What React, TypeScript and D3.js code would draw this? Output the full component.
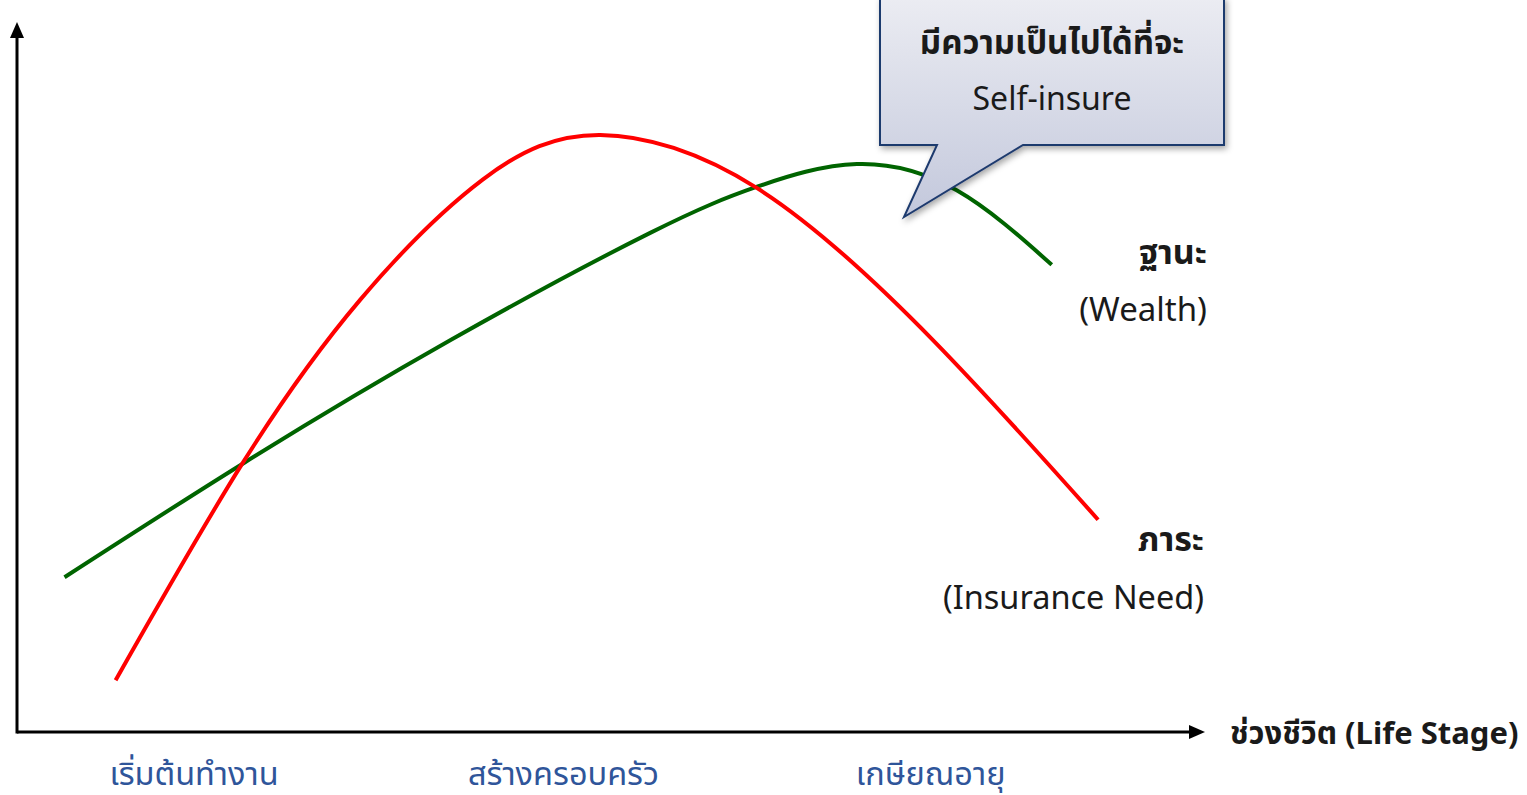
import React, { useEffect, useRef } from 'react';
import * as d3 from 'd3';

// life stage position (0-100) vs. relative level (0-100)
const needX = [8.3, 19.0, 28.9, 39.2, 49.1, 62.3, 77.1, 91.0];
const needY = [7.3, 37.9, 60.9, 77.8, 84.1, 76.6, 55.2, 29.9];

const wealthX = [4.0, 19.2, 36.5, 53.3, 62.3, 70.7, 79.1, 87.1];
const wealthY = [21.8, 38.0, 55.2, 70.3, 76.8, 80.0, 76.3, 65.8];

const stages = ['เริ่มต้นทำงาน', 'สร้างครอบครัว', 'เกษียณอายุ'];
const stageX = [14.9, 46.0, 76.9];

const width = 1527;
const height = 795;
const font = '"Noto Sans", "Noto Sans Thai", sans-serif';

const App = () => {
    const ref = useRef<SVGSVGElement>(null);

    useEffect(() => {
        document.body.style.margin = '0';
        const svg = d3.select(ref.current);
        svg.selectAll('*').remove();

        const x = d3.scaleLinear().domain([0, 100]).range([17, 1205]);
        const y = d3.scaleLinear().domain([0, 100]).range([732, 22]);

        const defs = svg.append('defs');
        const grad = defs.append('linearGradient')
            .attr('id', 'callout-fill')
            .attr('x1', 0).attr('y1', 0).attr('x2', 0).attr('y2', 1);
        grad.append('stop').attr('offset', '0%').attr('stop-color', '#ebecf2');
        grad.append('stop').attr('offset', '100%').attr('stop-color', '#c3c8dc');
        const shadow = defs.append('filter').attr('id', 'shadow')
            .attr('x', '-10%').attr('y', '-10%').attr('width', '130%').attr('height', '140%');
        shadow.append('feDropShadow')
            .attr('dx', 2).attr('dy', 3).attr('stdDeviation', 3)
            .attr('flood-color', '#000').attr('flood-opacity', 0.35);

        // axes
        svg.append('line')
            .attr('x1', x(0)).attr('y1', y(0)).attr('x2', x(100) - 12).attr('y2', y(0))
            .attr('stroke', '#000').attr('stroke-width', 3);
        svg.append('line')
            .attr('x1', x(0)).attr('y1', y(0) + 1.5).attr('x2', x(0)).attr('y2', y(100) + 12)
            .attr('stroke', '#000').attr('stroke-width', 3);
        svg.append('path')
            .attr('d', `M${x(100)},${y(0)} L${x(100) - 16},${y(0) - 7} L${x(100) - 16},${y(0) + 7} Z`)
            .attr('fill', '#000');
        svg.append('path')
            .attr('d', `M${x(0)},${y(100)} L${x(0) - 7},${y(100) + 16} L${x(0) + 7},${y(100) + 16} Z`)
            .attr('fill', '#000');

        const line = d3.line<[number, number]>()
            .x(d => x(d[0]))
            .y(d => y(d[1]))
            .curve(d3.curveNatural);

        svg.append('path')
            .datum(wealthX.map((v, i) => [v, wealthY[i]] as [number, number]))
            .attr('d', line)
            .attr('fill', 'none')
            .attr('stroke', '#006400')
            .attr('stroke-width', 4);

        svg.append('path')
            .datum(needX.map((v, i) => [v, needY[i]] as [number, number]))
            .attr('d', line)
            .attr('fill', 'none')
            .attr('stroke', '#ff0000')
            .attr('stroke-width', 4);

        // callout
        svg.append('path')
            .attr('d', 'M880,-2 L1224,-2 L1224,145 L1023,145 L904,217 L937,145 L880,145 Z')
            .attr('fill', 'url(#callout-fill)')
            .attr('stroke', '#1f3a6e')
            .attr('stroke-width', 2)
            .attr('stroke-linejoin', 'miter')
            .attr('filter', 'url(#shadow)');
        svg.append('text')
            .attr('x', 1052).attr('y', 54)
            .attr('text-anchor', 'middle')
            .style('font-family', font).style('font-size', '33px').style('font-weight', 'bold')
            .style('fill', '#1a1a1a')
            .text('มีความเป็นไปได้ที่จะ');
        svg.append('text')
            .attr('x', 1052).attr('y', 110)
            .attr('text-anchor', 'middle')
            .style('font-family', font).style('font-size', '32px')
            .style('fill', '#1a1a1a')
            .text('Self-insure');

        // curve labels
        const labels = [
            { text: 'ฐานะ', x: 1207, y: 264, size: 34, bold: true },
            { text: '(Wealth)', x: 1207, y: 321, size: 33, bold: false },
            { text: 'ภาระ', x: 1204, y: 551, size: 34, bold: true },
            { text: '(Insurance Need)', x: 1204, y: 609, size: 32.5, bold: false },
        ];
        svg.selectAll('text.lbl')
            .data(labels)
            .enter()
            .append('text')
            .attr('class', 'lbl')
            .attr('x', d => d.x)
            .attr('y', d => d.y)
            .attr('text-anchor', 'end')
            .style('font-family', font)
            .style('font-size', d => `${d.size}px`)
            .style('font-weight', d => (d.bold ? 'bold' : 'normal'))
            .style('fill', '#1a1a1a')
            .text(d => d.text);

        svg.append('text')
            .attr('x', 1230).attr('y', 744)
            .style('font-family', font).style('font-size', '31px').style('font-weight', 'bold')
            .style('fill', '#1a1a1a')
            .text('ช่วงชีวิต (Life Stage)');

        svg.selectAll('text.stage')
            .data(stages)
            .enter()
            .append('text')
            .attr('class', 'stage')
            .attr('x', (d, i) => x(stageX[i]))
            .attr('y', 785)
            .attr('text-anchor', 'middle')
            .style('font-family', font)
            .style('font-size', '32.5px')
            .style('fill', '#2f559a')
            .text(d => d);
    }, []);

    return <svg ref={ref} width={width} height={height} style={{ display: 'block' }} />;
};

export default App;
